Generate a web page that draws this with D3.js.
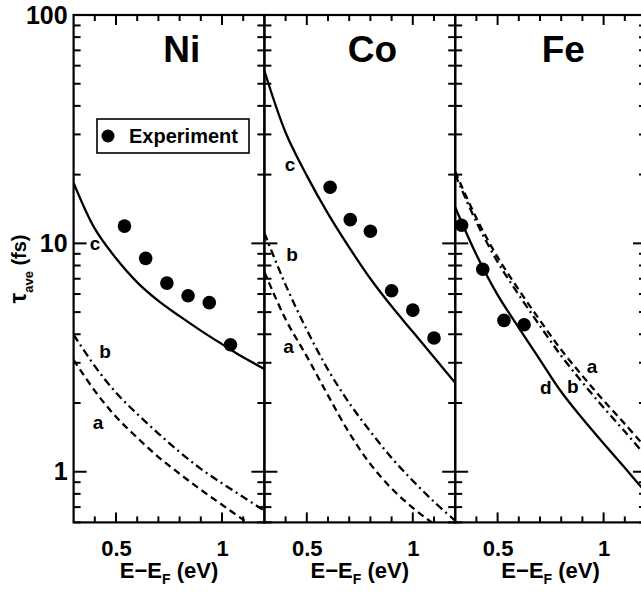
<!DOCTYPE html>
<html>
<head>
<meta charset="utf-8">
<script src="https://cdn.jsdelivr.net/npm/d3@7"></script>
<style>
  body { margin: 0; background: #fff; }
  text { font-family: "Liberation Sans", Arial, sans-serif; font-weight: bold; fill: #000; }
</style>
</head>
<body>
<div id="chart"></div>
<script>
// energy grid the theory curves were read at (eV)
const energyGrid = [0.3, 0.4, 0.5, 0.6, 0.7, 0.8, 0.9, 1.0, 1.1, 1.2];

// Ni
const niCurveA = [3.09, 2.26, 1.74, 1.41, 1.16, 0.98, 0.834, 0.717, 0.617, 0.54];
const niCurveB = [3.98, 2.9, 2.22, 1.79, 1.47, 1.22, 1.03, 0.89, 0.775, 0.675];
const niCurveC = [18.4, 11.6, 8.6, 6.75, 5.6, 4.8, 4.15, 3.62, 3.17, 2.82];
const niExpE = [0.54, 0.64, 0.74, 0.84, 0.94, 1.04];
const niExpTau = [11.9, 8.6, 6.7, 5.9, 5.5, 3.6];

// Co
const coCurveA = [7.5, 4.65, 3.2, 2.16, 1.48, 1.08, 0.845, 0.695, 0.59, 0.51];
const coCurveB = [11.1, 6.58, 4.18, 2.8, 2.0, 1.5, 1.15, 0.913, 0.739, 0.61];
const coCurveC = [57, 30.6, 19.8, 13.5, 9.6, 7.0, 5.3, 4.1, 3.17, 2.45];
const coExpE = [0.61, 0.705, 0.80, 0.90, 1.0, 1.10];
const coExpTau = [17.6, 12.7, 11.3, 6.2, 5.1, 3.85];

// Fe
const feCurveA = [20.6, 12.9, 8.7, 6.26, 4.6, 3.42, 2.63, 2.05, 1.62, 1.27];
const feCurveB = [20.0, 12.4, 8.3, 5.95, 4.35, 3.22, 2.46, 1.91, 1.5, 1.17];
const feCurveD = [14.4, 8.92, 5.95, 4.27, 3.09, 2.24, 1.71, 1.33, 1.04, 0.81];
const feExpE = [0.33, 0.43, 0.53, 0.625];
const feExpTau = [12.0, 7.7, 4.6, 4.4];

// curve tags, anchored in data space: [tag, E, tau]
const niTags = [["c", 0.401, 10.0], ["b", 0.448, 3.35], ["a", 0.415, 1.64]];
const coTags = [["c", 0.421, 22.0], ["b", 0.430, 8.9], ["a", 0.414, 3.52]];
const feTags = [["a", 0.945, 2.88], ["b", 0.855, 2.36], ["d", 0.727, 2.33]];

const panelNames = ["Ni", "Co", "Fe"];
const xMajor = [0.5, 1];
const xMinor = [0.4, 0.6, 0.7, 0.8, 0.9, 1.1];
const yMajor = [1, 10, 100];
const yMinor = [0.6, 0.7, 0.8, 0.9, 2, 3, 4, 5, 6, 7, 8, 9, 20, 30, 40, 50, 60, 70, 80, 90];

const panels = [
  {name: panelNames[0], lines: [[niCurveA, "a"], [niCurveB, "b"], [niCurveC, "s"]], expE: niExpE, expTau: niExpTau, tags: niTags},
  {name: panelNames[1], lines: [[coCurveA, "a"], [coCurveB, "b"], [coCurveC, "s"]], expE: coExpE, expTau: coExpTau, tags: coTags},
  {name: panelNames[2], lines: [[feCurveA, "a"], [feCurveB, "b"], [feCurveD, "s"]], expE: feExpE, expTau: feExpTau, tags: feTags}
];

const width = 641, height = 592;
const plotTop = 15, plotBottom = 522.4;
const panelLeft = [73.6, 264.4, 455.2], panelW = 190.8;

const svg = d3.select("#chart").append("svg")
    .attr("width", width)
    .attr("height", height);

const y = d3.scaleLog().domain([0.6, 100]).range([plotBottom, plotTop]);

const dashFor = {a: "7,4.5", b: "8,4,2,4", s: null};

function hTicks(g, vals, x0, len) {
    g.selectAll(null)
        .data(vals)
        .enter()
        .append("line")
        .attr("x1", x0).attr("x2", x0 + len)
        .attr("y1", d => y(d)).attr("y2", d => y(d))
        .attr("stroke", "#000")
        .attr("stroke-width", 2);
}

function vTicks(g, x, vals, y0, len) {
    g.selectAll(null)
        .data(vals)
        .enter()
        .append("line")
        .attr("x1", d => x(d)).attr("x2", d => x(d))
        .attr("y1", y0).attr("y2", y0 + len)
        .attr("stroke", "#000")
        .attr("stroke-width", 2);
}

panels.forEach((p, i) => {
    const x = d3.scaleLinear().domain([0.3, 1.2]).range([panelLeft[i], panelLeft[i] + panelW]);
    const g = svg.append("g");
    const leftX = x.range()[0], rightX = x.range()[1];

    g.append("clipPath").attr("id", "clip" + i)
        .append("rect")
        .attr("x", leftX).attr("y", plotTop)
        .attr("width", panelW).attr("height", plotBottom - plotTop);

    const line = d3.line()
        .x((d, j) => x(energyGrid[j]))
        .y(d => y(d))
        .curve(d3.curveCatmullRom.alpha(0.5));

    g.append("g").attr("clip-path", "url(#clip" + i + ")")
        .selectAll("path")
        .data(p.lines)
        .enter()
        .append("path")
        .attr("d", d => line(d[0]))
        .attr("fill", "none")
        .attr("stroke", "#000")
        .attr("stroke-width", 2.3)
        .attr("stroke-dasharray", d => dashFor[d[1]]);

    g.selectAll("circle.exp")
        .data(p.expE)
        .enter()
        .append("circle")
        .attr("class", "exp")
        .attr("cx", d => x(d))
        .attr("cy", (d, j) => y(p.expTau[j]))
        .attr("r", 6.8)
        .attr("fill", "#000");

    g.selectAll("text.tag")
        .data(p.tags)
        .enter()
        .append("text")
        .attr("class", "tag")
        .attr("x", d => x(d[1]))
        .attr("y", d => y(d[2]))
        .attr("text-anchor", "middle")
        .attr("dy", "0.33em")
        .style("font-size", "19px")
        .text(d => d[0]);

    g.append("rect")
        .attr("x", leftX).attr("y", plotTop)
        .attr("width", panelW).attr("height", plotBottom - plotTop)
        .attr("fill", "none")
        .attr("stroke", "#000")
        .attr("stroke-width", 2.2);

    // ticks, all pointing inward
    const tg = g.append("g");
    vTicks(tg, x, xMinor, plotBottom, -6);
    vTicks(tg, x, xMajor, plotBottom, -10);
    vTicks(tg, x, xMinor, plotTop, 6);
    vTicks(tg, x, xMajor, plotTop, 10);
    hTicks(tg, yMinor, leftX, 7);
    hTicks(tg, yMajor, leftX, 13);
    hTicks(tg, yMinor, rightX, -7);
    hTicks(tg, yMajor, rightX, -13);

    // tick labels through the axis generators
    const bottomAxis = g.append("g").attr("transform", "translate(0," + plotBottom + ")")
        .call(d3.axisBottom(x).tickValues(xMajor).tickSize(0).tickPadding(18)
            .tickFormat(d => d === 1 ? "1" : d3.format(".1f")(d)));
    bottomAxis.selectAll("text").style("font-size", "22px");
    bottomAxis.select(".domain").remove();

    if (i === 0) {
        const leftAxis = g.append("g").attr("transform", "translate(" + leftX + ",0)")
            .call(d3.axisLeft(y).tickValues(yMajor).tickSize(0).tickPadding(6)
                .tickFormat(d3.format("d")));
        leftAxis.selectAll("text").style("font-size", "25px");
        leftAxis.select(".domain").remove();
    }

    g.append("text")
        .attr("x", x(0.81))
        .attr("y", 62)
        .attr("text-anchor", "middle")
        .style("font-size", "37px")
        .text(p.name);

    const xt = g.append("text")
        .attr("x", x(0.75))
        .attr("y", 578)
        .attr("text-anchor", "middle")
        .style("font-size", "22px");
    xt.append("tspan").text("E\u2212E");
    xt.append("tspan").attr("dy", 6).style("font-size", "14px").text("F");
    xt.append("tspan").attr("dy", -6).text(" (eV)");

    if (i === 0) {
        const lg = g.append("g");
        lg.append("rect")
            .attr("x", 97).attr("y", 119)
            .attr("width", 152).attr("height", 34)
            .attr("fill", "#fff")
            .attr("stroke", "#000")
            .attr("stroke-width", 1.6);
        lg.append("circle").attr("cx", 108).attr("cy", 136).attr("r", 6.5).attr("fill", "#000");
        lg.append("text").attr("x", 129).attr("y", 143)
            .style("font-size", "20px")
            .text("Experiment");
    }
});

// y axis title
const yt = svg.append("text")
    .attr("transform", "translate(26,269) rotate(-90)")
    .attr("text-anchor", "middle")
    .style("font-size", "20px");
yt.append("tspan").style("font-size", "24px").text("\u03c4");
yt.append("tspan").attr("dy", 7).style("font-size", "13px").text("ave");
yt.append("tspan").attr("dy", -7).text(" (fs)");
</script>
</body>
</html>
